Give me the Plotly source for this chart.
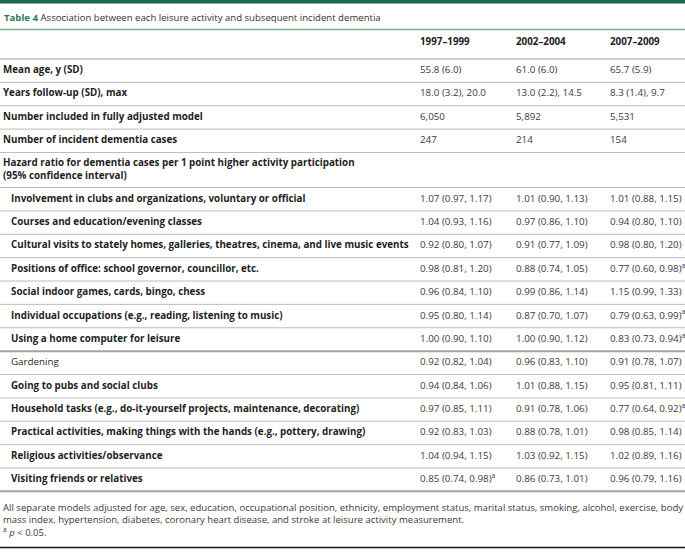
import plotly.graph_objects as go

W, H = 685, 553

# ---------------- data ----------------
title_bold = "Table 4"
title_text = "Association between each leisure activity and subsequent incident dementia"
periods = ["1997–1999", "2002–2004", "2007–2009"]

summary_labels = [
    "Mean age, y (SD)",
    "Years follow-up (SD), max",
    "Number included in fully adjusted model",
    "Number of incident dementia cases",
]
summary_1997 = ["55.8 (6.0)", "18.0 (3.2), 20.0", "6,050", "247"]
summary_2002 = ["61.0 (6.0)", "13.0 (2.2), 14.5", "5,892", "214"]
summary_2007 = ["65.7 (5.9)", "8.3 (1.4), 9.7", "5,531", "154"]

hazard_heading = ("Hazard ratio for dementia cases per 1 point higher activity participation"
                  "<br>(95% confidence interval)")

activities = [
    "Involvement in clubs and organizations, voluntary or official",
    "Courses and education/evening classes",
    "Cultural visits to stately homes, galleries, theatres, cinema, and live music events",
    "Positions of office: school governor, councillor, etc.",
    "Social indoor games, cards, bingo, chess",
    "Individual occupations (e.g., reading, listening to music)",
    "Using a home computer for leisure",
    "Gardening",
    "Going to pubs and social clubs",
    "Household tasks (e.g., do-it-yourself projects, maintenance, decorating)",
    "Practical activities, making things with the hands (e.g., pottery, drawing)",
    "Religious activities/observance",
    "Visiting friends or relatives",
]
activity_bold = [True, True, True, True, True, True, True, False, True, True, True, True, True]

hr_1997 = [1.07, 1.04, 0.92, 0.98, 0.96, 0.95, 1.00, 0.92, 0.94, 0.97, 0.92, 1.04, 0.85]
lo_1997 = [0.97, 0.93, 0.80, 0.81, 0.84, 0.80, 0.90, 0.82, 0.84, 0.85, 0.83, 0.94, 0.74]
hi_1997 = [1.17, 1.16, 1.07, 1.20, 1.10, 1.14, 1.10, 1.04, 1.06, 1.11, 1.03, 1.15, 0.98]
sig_1997 = [False] * 12 + [True]

hr_2002 = [1.01, 0.97, 0.91, 0.88, 0.99, 0.87, 1.00, 0.96, 1.01, 0.91, 0.88, 1.03, 0.86]
lo_2002 = [0.90, 0.86, 0.77, 0.74, 0.86, 0.70, 0.90, 0.83, 0.88, 0.78, 0.78, 0.92, 0.73]
hi_2002 = [1.13, 1.10, 1.09, 1.05, 1.14, 1.07, 1.12, 1.10, 1.15, 1.06, 1.01, 1.15, 1.01]
sig_2002 = [False] * 13

hr_2007 = [1.01, 0.94, 0.98, 0.77, 1.15, 0.79, 0.83, 0.91, 0.95, 0.77, 0.98, 1.02, 0.96]
lo_2007 = [0.88, 0.80, 0.80, 0.60, 0.99, 0.63, 0.73, 0.78, 0.81, 0.64, 0.85, 0.89, 0.79]
hi_2007 = [1.15, 1.10, 1.20, 0.98, 1.33, 0.99, 0.94, 1.07, 1.11, 0.92, 1.14, 1.16, 1.16]
sig_2007 = [False, False, False, True, False, True, True, False, False, True, False, False, False]

footnote = ("All separate models adjusted for age, sex, education, occupational position, ethnicity, "
            "employment status, marital status, smoking, alcohol, exercise, body"
            "<br>mass index, hypertension, diabetes, coronary heart disease, and stroke at leisure activity measurement."
            "<br><sup>a</sup> <i>p</i> &lt; 0.05.")

# ---------------- layout constants ----------------
FONT = "Open Sans"
FS_LAB = 9.8
FS_VAL = 9.8
GREEN_DARK = "#1b6a4d"
GREEN_TITLE = "#1f7a57"
GREEN_LINE = "#74b196"
GRID = "#bdbdbd"
GRID_THICK = "#a3a3a3"

col_x = [420, 516, 610]
x_main = 3
x_sub = 11

y_header_top = 29.5
y_header_bottom = 59
row_h = 23.37
row_heights = [row_h] * 4 + [row_h * 1.5] + [row_h] * len(activities)

bounds = [y_header_bottom]
for h in row_heights:
    bounds.append(bounds[-1] + h)
centers = [(bounds[i] + bounds[i + 1]) / 2 for i in range(len(row_heights))]


def fmt(v, lo, hi, s):
    t = f"{v:.2f} ({lo:.2f}, {hi:.2f})"
    return t + ("<sup>a</sup>" if s else "")


fig = go.Figure()

lab_x, lab_y, lab_t = [], [], []
for i, lab in enumerate(summary_labels):
    lab_x.append(x_main); lab_y.append(centers[i]); lab_t.append(f"<b>{lab}</b>")
lab_x.append(x_main); lab_y.append(centers[4]); lab_t.append(f"<b>{hazard_heading}</b>")
for j, lab in enumerate(activities):
    lab_x.append(x_sub); lab_y.append(centers[5 + j])
    lab_t.append(f"<b>{lab}</b>" if activity_bold[j] else lab)
for c, p in enumerate(periods):
    lab_x.append(col_x[c]); lab_y.append(43); lab_t.append(f"<b>{p}</b>")

fig.add_trace(go.Scatter(x=lab_x, y=lab_y, text=lab_t, mode="text",
                         textposition="middle right",
                         textfont=dict(family=FONT, size=FS_LAB, color="#1e1e1e"),
                         hoverinfo="skip", showlegend=False))

cols = [
    (summary_1997, hr_1997, lo_1997, hi_1997, sig_1997),
    (summary_2002, hr_2002, lo_2002, hi_2002, sig_2002),
    (summary_2007, hr_2007, lo_2007, hi_2007, sig_2007),
]
for c, (summ, hr, lo, hi, sig) in enumerate(cols):
    vx, vy, vt = [], [], []
    for i, s in enumerate(summ):
        vx.append(col_x[c]); vy.append(centers[i]); vt.append(s)
    for j in range(len(hr)):
        vx.append(col_x[c]); vy.append(centers[5 + j]); vt.append(fmt(hr[j], lo[j], hi[j], sig[j]))
    fig.add_trace(go.Scatter(x=vx, y=vy, text=vt, mode="text",
                             textposition="middle right",
                             textfont=dict(family=FONT, size=FS_VAL, color="#3a3a3a"),
                             hoverinfo="skip", showlegend=False))

shapes = []
shapes.append(dict(type="rect", xref="x", yref="y", x0=0, x1=W, y0=0, y1=3.5,
                   fillcolor=GREEN_DARK, line=dict(width=0)))
shapes.append(dict(type="line", xref="x", yref="y", x0=0, x1=W, y0=y_header_top, y1=y_header_top,
                   line=dict(color=GREEN_LINE, width=1.5)))
shapes.append(dict(type="line", xref="x", yref="y", x0=0, x1=W, y0=y_header_bottom, y1=y_header_bottom,
                   line=dict(color=GRID, width=1.5)))
thick_after = {5 + 6, len(row_heights) - 1}
for i in range(len(row_heights)):
    yb = bounds[i + 1]
    thick = i in thick_after
    shapes.append(dict(type="line", xref="x", yref="y", x0=0, x1=W, y0=yb, y1=yb,
                       line=dict(color=GRID_THICK if thick else GRID, width=2 if thick else 1)))
shapes.append(dict(type="line", xref="x", yref="y", x0=0, x1=W, y0=547.5, y1=547.5,
                   line=dict(color="#1a1a1a", width=1.5)))

annotations = [
    dict(xref="x", yref="y", x=2, y=17, xanchor="left", yanchor="middle", showarrow=False,
         text=f"<span style='color:{GREEN_TITLE}'><b>{title_bold}</b></span> {title_text}",
         font=dict(family=FONT, size=9.6, color="#333333")),
    dict(xref="x", yref="y", x=1, y=519.5, xanchor="left", yanchor="middle", showarrow=False,
         align="left", text=footnote,
         font=dict(family=FONT, size=9.55, color="#3a3a3a")),
]

fig.update_layout(
    width=W, height=H, autosize=False,
    margin=dict(l=0, r=0, t=0, b=0),
    paper_bgcolor="white", plot_bgcolor="white",
    xaxis=dict(range=[0, W], visible=False, fixedrange=True),
    yaxis=dict(range=[H, 0], visible=False, fixedrange=True),
    shapes=shapes, annotations=annotations,
    showlegend=False,
)

fig.write_html("out.html", config={"displayModeBar": False},
               post_script="document.body.style.margin='0';document.body.style.overflow='hidden';")
